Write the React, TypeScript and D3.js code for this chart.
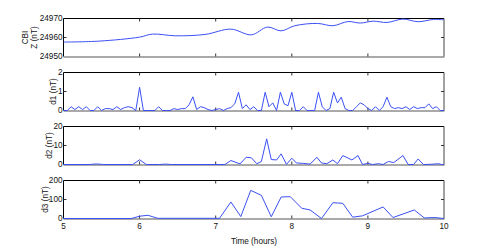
import React from "react";
import * as d3 from "d3";

// CBI magnetometer, Z component (nT) and three difference series
const zTimes = [5.0, 5.47, 6.0, 6.17, 6.47, 6.86, 7.2, 7.47, 7.68, 7.86, 8.04, 8.34, 8.54, 8.74, 8.9, 9.07, 9.25, 9.46, 9.66, 9.86, 10.0];
const zValues = [24957.6, 24958.1, 24960.2, 24961.8, 24960.9, 24961.6, 24964.4, 24961.4, 24965.5, 24963.5, 24966.2, 24967.4, 24966.2, 24968.4, 24967.6, 24968.6, 24967.9, 24969.7, 24968.3, 24969.5, 24969.3];

// d1 is sampled every 3 minutes (0.05 h)
const d1Times = d3.range(0, 101).map((i) => 5 + i * 0.05);
const d1Values = [
  0, 0, 0.2, 0.05, 0.2, 0.05, 0.2, 0, 0, 0.2,
  0, 0.1, 0.1, 0.05, 0.2, 0.05, 0.15, 0.2, 0.15, 0,
  1.22, 0, 0, 0, 0, 0.2, 0, 0, 0, 0.1,
  0.05, 0.1, 0.1, 0.3, 0.72, 0.05, 0.2, 0.15, 0.05, 0,
  0.05, 0.1, 0, 0.1, 0.15, 0.35, 0.96, 0.1, 0.3, 0.05,
  0.2, 0, 0, 0.96, 0.2, 0.4, 0, 0.96, 0.35, 0.25,
  0.96, 0, 0, 0.2, 0, 0, 0, 0.96, 0.2, 0,
  0.1, 0.96, 0.4, 0.7, 0.1, 0, 0, 0.2, 0.4, 0.3,
  0.1, 0, 0.2, 0, 0.2, 0.7, 0.2, 0.1, 0.15, 0.1,
  0.2, 0.05, 0.2, 0.1, 0.15, 0.15, 0.35, 0.1, 0.2, 0,
  0,
];

const d2Times = [5.0, 5.34, 5.43, 5.53, 5.91, 6.0, 6.09, 6.26, 6.34, 6.42, 7.12, 7.2, 7.32, 7.4, 7.47, 7.54, 7.6, 7.67, 7.73, 7.8, 7.86, 7.93, 8.0, 8.06, 8.15, 8.24, 8.33, 8.39, 8.46, 8.54, 8.6, 8.67, 8.79, 8.87, 8.93, 9.0, 9.06, 9.14, 9.2, 9.27, 9.34, 9.46, 9.53, 9.6, 9.66, 9.73, 9.82, 9.93, 9.97, 10.0];
const d2Values = [0, 0, 0.3, 0, 0, 2.5, 0, 0, 0.2, 0, 0, 2.1, 0.3, 3.8, 3.5, 0.4, 1.6, 13.5, 2.6, 2.4, 5.6, 0.1, 3.3, 0.8, 0.6, 0.2, 3.8, 0.8, 0.4, 2.4, 0.4, 4.7, 2.4, 4.7, 0, 0.6, 0, 0.4, 0, 1.6, 1.0, 4.7, 0, 0, 2.9, 0, 0.1, 0.4, 0, 0];

const d3Times = [5.0, 5.89, 6.0, 6.11, 6.22, 6.25, 7.05, 7.2, 7.33, 7.46, 7.6, 7.73, 7.86, 7.98, 8.13, 8.24, 8.39, 8.54, 8.67, 8.8, 8.93, 9.2, 9.33, 9.61, 9.74, 9.88, 10.0];
const d3Values = [0, 0, 12, 17, 3, 1, 1, 87, 10, 148, 122, 9, 113, 115, 54, 45, 0, 83, 80, 7, 14, 61, 5, 45, 3, 5, 0];

const xTicks = [5, 6, 7, 8, 9, 10];
const zTicks = [24950, 24960, 24970];
const d1Ticks = [0, 1, 2];
const d2Ticks = [0, 10, 20];
const d3Ticks = [0, 100, 200];

const font = "'Liberation Sans', Arial, Helvetica, sans-serif";
const fs = 8.2;
const lineColor = "#3a50f5";

const x = d3.scaleLinear().domain([5, 10]).range([63.5, 444]);

function Panel({ top, bottom, times, values, ticks, labels, showX, smooth }) {
  const y = d3.scaleLinear().domain([ticks[0], ticks[2]]).range([bottom, top]);
  const line = d3
    .line()
    .x((d, i) => x(times[i]))
    .y((d) => y(d))
    .curve(smooth ? d3.curveCatmullRom : d3.curveLinear);
  const x0 = x(5), x1 = x(10);
  const mid = (top + bottom) / 2;

  return (
    <g>
      {/* box: top/left crisp, bottom/right a bit softer like the original */}
      <line x1={x0} x2={x1} y1={top} y2={top} stroke="#000" />
      <line x1={x0} x2={x0} y1={top} y2={bottom} stroke="#000" />
      <line x1={x0} x2={x1 + 0.5} y1={bottom + 0.5} y2={bottom + 0.5} stroke="#555" />
      <line x1={x1} x2={x1} y1={top} y2={bottom} stroke="#444" />
      {/* inward ticks */}
      {xTicks.slice(1, -1).map((t) => (
        <g key={t}>
          <line x1={x(t)} x2={x(t)} y1={top} y2={top + 3} stroke="#333" />
          <line x1={x(t)} x2={x(t)} y1={bottom} y2={bottom - 3} stroke="#333" />
        </g>
      ))}
      <line x1={x0} x2={x0 + 3} y1={y(ticks[1])} y2={y(ticks[1])} stroke="#333" />
      <line x1={x1} x2={x1 - 3} y1={y(ticks[1])} y2={y(ticks[1])} stroke="#333" />
      {ticks.map((t) => (
        <text key={t} x={x0 - 1} y={y(t)} textAnchor="end" dominantBaseline="central"
          fontSize={fs} fontFamily={font} fill="#111">{t}</text>
      ))}
      {labels.map((l) => (
        <text key={l.text} transform={`translate(${l.x},${mid}) rotate(-90)`} textAnchor="middle"
          dominantBaseline="central" fontSize={fs} fontFamily={font} fill="#111">{l.text}</text>
      ))}
      {showX &&
        xTicks.map((t) => (
          <text key={t} x={x(t)} y={bottom + 10} textAnchor="middle" fontSize={fs}
            fontFamily={font} fill="#111">{t}</text>
        ))}
      <path d={line(values)} fill="none" stroke={lineColor} strokeWidth={1} />
    </g>
  );
}

export default function App() {
  return (
    <svg width={491} height={247} style={{ position: "absolute", left: 0, top: 0, background: "#fff" }}>
      <Panel top={18.5} bottom={56.5} times={zTimes} values={zValues} ticks={zTicks} smooth
        labels={[{ text: "CBI", x: 25.5 }, { text: "Z (nT)", x: 34 }]} />
      <Panel top={72.5} bottom={110.5} times={d1Times} values={d1Values} ticks={d1Ticks}
        labels={[{ text: "d1 (nT)", x: 53 }]} />
      <Panel top={126.5} bottom={164.5} times={d2Times} values={d2Values} ticks={d2Ticks}
        labels={[{ text: "d2 (nT)", x: 49 }]} />
      <Panel top={180.5} bottom={218.5} times={d3Times} values={d3Values} ticks={d3Ticks} showX
        labels={[{ text: "d3 (nT)", x: 45 }]} />
      <text x={254} y={244} textAnchor="middle" fontSize={fs} fontFamily={font} fill="#111">
        Time (hours)
      </text>
    </svg>
  );
}
